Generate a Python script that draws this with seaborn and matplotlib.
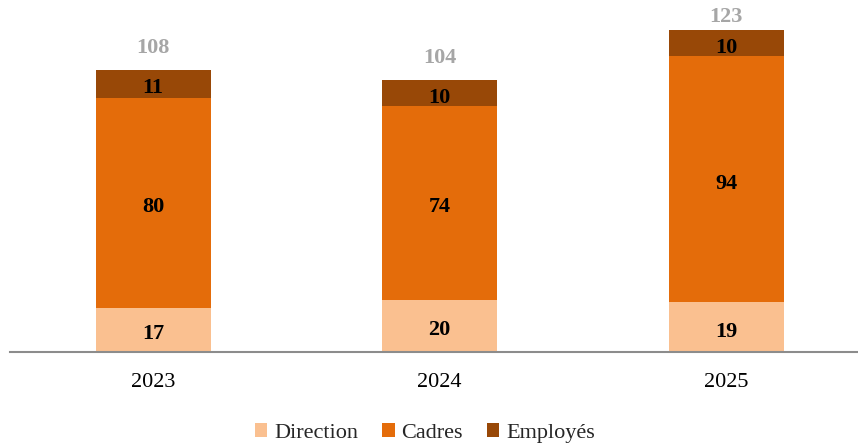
import matplotlib
matplotlib.use("Agg")
import matplotlib.pyplot as plt
import seaborn as sns
import pandas as pd
from matplotlib.patches import Patch

years = ["2023", "2024", "2025"]
direction = [17, 20, 19]
cadres = [80, 74, 94]
employes = [11, 10, 10]
totals = [108, 104, 123]

colors = {"Direction": "#FAC090", "Cadres": "#E46C0A", "Employés": "#984807"}

sns.set_theme(style="white")
plt.rcParams["font.family"] = ["Liberation Serif", "DejaVu Serif"]

df = pd.DataFrame({"year": years, "Direction": direction, "Cadres": cadres, "Employés": employes})
df["c1"] = df["Direction"]
df["c2"] = df["Direction"] + df["Cadres"]
df["c3"] = df["c2"] + df["Employés"]

fig = plt.figure(figsize=(8.58, 4.48), dpi=100)
ax = fig.add_axes([10 / 858, 96 / 448, 848 / 858, 352 / 448])

# stacked look: draw cumulative sums, largest first
sns.barplot(data=df, x="year", y="c3", color=colors["Employés"], width=0.4, saturation=1, ax=ax, linewidth=0)
sns.barplot(data=df, x="year", y="c2", color=colors["Cadres"], width=0.4, saturation=1, ax=ax, linewidth=0)
sns.barplot(data=df, x="year", y="c1", color=colors["Direction"], width=0.4, saturation=1, ax=ax, linewidth=0)

ymax = 134.6
fs = 16
shift = 3.6  # baseline below segment middle, in data units
for i in range(len(years)):
    mids = [direction[i] / 2,
            direction[i] + cadres[i] / 2,
            direction[i] + cadres[i] + employes[i] / 2]
    for v, m in zip([direction[i], cadres[i], employes[i]], mids):
        ax.text(i, m - shift, str(v), ha="center", va="baseline",
                fontsize=fs, fontweight="bold", color="black")
    ax.text(i, min(totals[i] + 6.4, 126.2), str(totals[i]), ha="center", va="baseline",
            fontsize=fs, fontweight="bold", color="#A6A6A6")

ax.set_xlim(-0.5, 2.46)
ax.set_ylim(0, ymax)
ax.set_xlabel("")
ax.set_ylabel("")
ax.set_yticks([])
for s in ["top", "right", "left"]:
    ax.spines[s].set_visible(False)
ax.spines["bottom"].set_color("#8C8C8C")
ax.spines["bottom"].set_linewidth(1.5)
ax.tick_params(axis="x", length=0, labelsize=fs, pad=15, colors="black")

handles = [Patch(facecolor=colors[k], edgecolor="none", label=k) for k in ["Direction", "Cadres", "Employés"]]
fig.legend(handles=handles, loc="center", bbox_to_anchor=(425 / 858, 1 - 433 / 448), ncol=3,
           frameon=False, fontsize=fs, handlelength=0.55, handleheight=0.55, handletextpad=0.3,
           columnspacing=1.1)

fig.savefig("out.png", dpi=100)
